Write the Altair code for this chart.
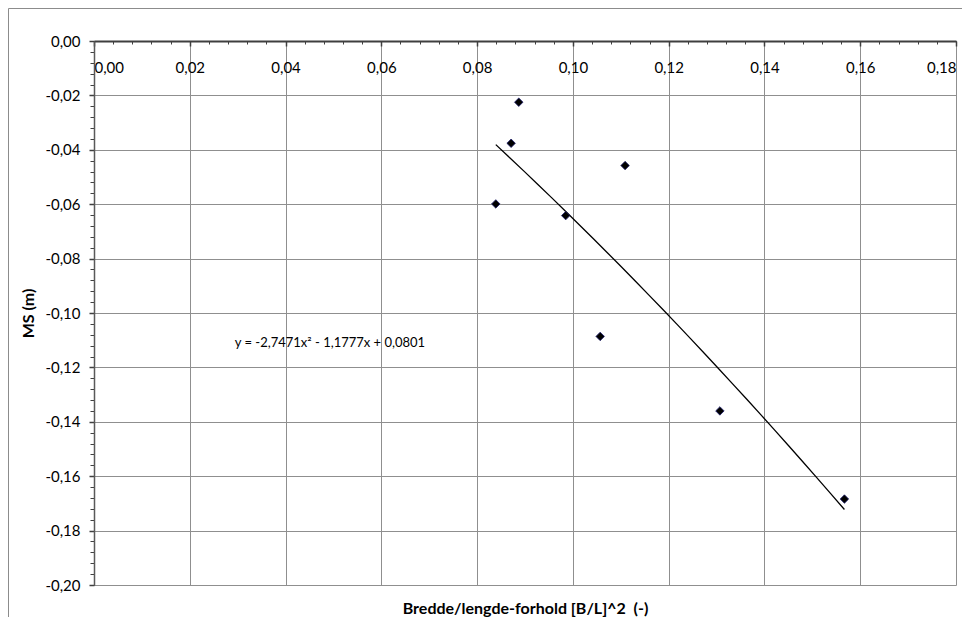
import altair as alt
import pandas as pd

# Data
x_vals = [0.0887, 0.0871, 0.1109, 0.0839, 0.0985, 0.1057, 0.1307, 0.1567]
y_vals = [-0.0225, -0.0376, -0.0458, -0.0599, -0.0642, -0.1086, -0.1360, -0.1684]

eq_text = ["y = -2,7471x² - 1,1777x + 0,0801"]
eq_x = [0.0294]
eq_y = [-0.111]

x_title = "Bredde/lengde-forhold [B/L]^2\u00a0 (-)"
y_title = "MS (m)"

x_major = [0.00, 0.02, 0.04, 0.06, 0.08, 0.10, 0.12, 0.14, 0.16, 0.18]
y_major = [0.00, -0.02, -0.04, -0.06, -0.08, -0.10, -0.12, -0.14, -0.16, -0.18, -0.20]
x_minor = [round(i * 0.004, 3) for i in range(46)]
y_minor = [round(-i * 0.004, 3) for i in range(51)]

W, H = 862, 544
FONT = "Lato"

df = pd.DataFrame({"x": x_vals, "y": y_vals})
df_eq = pd.DataFrame({"x": eq_x, "y": eq_y, "t": eq_text})

x_scale = alt.Scale(domain=[0, 0.18], nice=False, zero=False)
y_scale = alt.Scale(domain=[-0.20, 0], nice=False, zero=False)

x_label_expr = "replace(format(datum.value, '.2f'), '.', ',')"
y_label_expr = "(datum.value < -0.0001 ? '-' : '') + replace(format(abs(datum.value), '.2f'), '.', ',')"

x_axis_major = alt.Axis(
    orient="bottom", offset=-H, values=x_major, labelExpr=x_label_expr,
    grid=True, gridColor="#8f8f8f", gridWidth=1,
    domain=True, domainColor="#3f3f3f", domainWidth=2,
    ticks=True, tickColor="#3f3f3f", tickSize=5, tickWidth=1.5,
    labelPadding=14, labelFont=FONT, labelFontSize=15, labelColor="#000000",
    title=x_title, titleFont=FONT, titleFontSize=16, titleFontWeight="bold",
    titleColor="#000000", titleY=H + 28, titleBaseline="alphabetic",
)
y_axis_major = alt.Axis(
    orient="left", values=y_major, labelExpr=y_label_expr,
    grid=True, gridColor="#8f8f8f", gridWidth=1,
    domain=True, domainColor="#595959", domainWidth=1.5,
    ticks=True, tickColor="#3f3f3f", tickSize=5, tickWidth=1.5,
    labelPadding=9, labelFont=FONT, labelFontSize=15, labelColor="#000000",
    title=y_title, titleFont=FONT, titleFontSize=16, titleFontWeight="bold",
    titleColor="#000000", titleX=-66, titleY=H / 2, titleBaseline="middle",
)
x_axis_minor = alt.Axis(
    orient="bottom", offset=-H, values=x_minor, labels=False, grid=False,
    domain=False, ticks=True, tickColor="#3f3f3f", tickSize=3, tickWidth=1,
    title=None,
)
y_axis_minor = alt.Axis(
    orient="left", values=y_minor, labels=False, grid=False,
    domain=False, ticks=True, tickColor="#3f3f3f", tickSize=4, tickWidth=1,
    title=None,
)

frame = alt.Chart(pd.DataFrame({"a": [0]})).mark_rect(
    fill=None, filled=False, stroke="#8c8c8c", strokeWidth=1
).encode(
    x=alt.value(-85.5), x2=alt.value(W + 40), y=alt.value(-32.5), y2=alt.value(H + 60)
)

trend = alt.Chart(df).transform_regression(
    "x", "y", method="poly", order=2
).mark_line(color="#000000", strokeWidth=1.3).encode(
    x=alt.X("x:Q", scale=x_scale, axis=x_axis_minor),
    y=alt.Y("y:Q", scale=y_scale, axis=y_axis_minor),
)

points = alt.Chart(df).mark_point(
    shape="diamond", filled=True, fill="#000000", stroke="#1c1c6b",
    strokeWidth=0.8, size=72, opacity=1
).encode(
    x=alt.X("x:Q", scale=x_scale, axis=x_axis_major),
    y=alt.Y("y:Q", scale=y_scale, axis=y_axis_major),
)

eq = alt.Chart(df_eq).mark_text(
    align="left", baseline="middle", font=FONT, fontSize=13, color="#000000"
).encode(
    x=alt.X("x:Q", scale=x_scale, axis=None),
    y=alt.Y("y:Q", scale=y_scale, axis=None),
    text="t:N",
)

chart = alt.layer(frame, trend, points, eq).resolve_axis(
    x="independent", y="independent"
).properties(
    width=W, height=H,
    autosize=alt.AutoSizeParams(type="none"),
    padding={"left": 86, "top": 33, "right": 6, "bottom": 32},
    background="#ffffff",
).configure_view(stroke=None)

chart.save("out.html", embed_options={"renderer": "svg", "actions": False})
